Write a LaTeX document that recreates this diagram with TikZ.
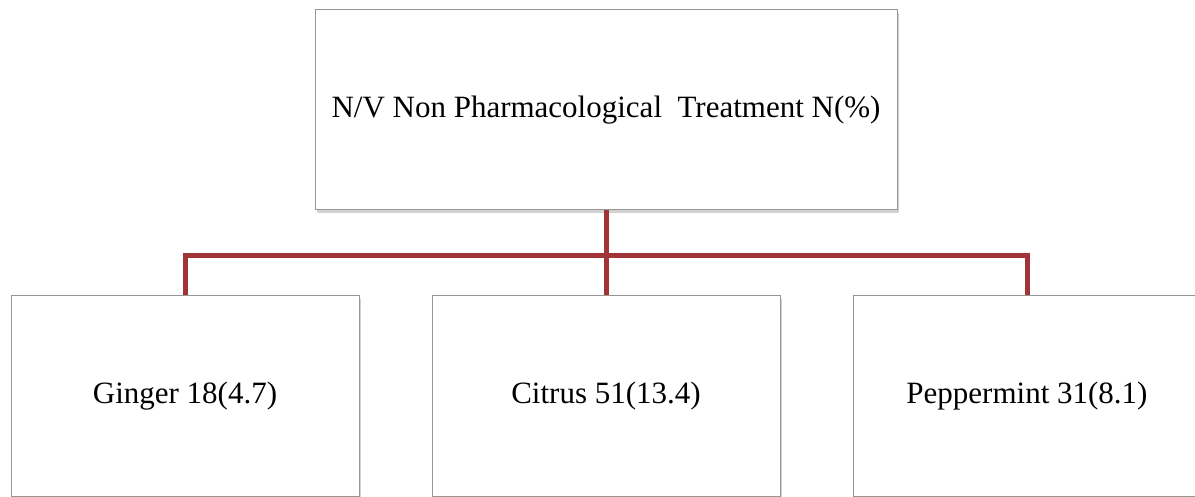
\documentclass[tikz,border=0pt]{standalone}
\usepackage{fontspec}
\setmainfont{Liberation Serif}
\usepackage{tikz}
\usepackage{xcolor}
\usetikzlibrary{shadows}

\definecolor{linkred}{RGB}{160,52,54}
\definecolor{boxgray}{RGB}{150,150,150}

\tikzset{
    box/.style={rectangle, draw=boxgray, line width=1pt, fill=white,
        drop shadow={shadow xshift=2pt, shadow yshift=-3pt, fill=black!35, opacity=.5},
        minimum width=348pt, minimum height=200pt, inner sep=0pt,
        font=\fontsize{31}{36}\selectfont},
    link/.style={draw=linkred, line width=5pt}
}

\begin{document}
\begin{tikzpicture}[x=1pt, y=-1pt]
        \useasboundingbox (0,0) rectangle (1195,497);
        \clip (0,0) rectangle (1195,497);

        \node[box, minimum width=582pt] (treat) at (606, 110) {N/V Non Pharmacological\ \ Treatment N(\%)};
        \node[box] (ginger) at (185, 396) {Ginger 18(4.7)};
        \node[box] (citrus) at (606, 396) {Citrus 51(13.4)};
        \node[box] (mint) at (1027, 396) {Peppermint 31(8.1)};

        \coordinate (bus) at (606, 256);

        \draw[link] (treat.south) -- (citrus.north);
        \draw[link] (ginger.north) |- (bus) -| (mint.north);
    \end{tikzpicture}
\end{document}
